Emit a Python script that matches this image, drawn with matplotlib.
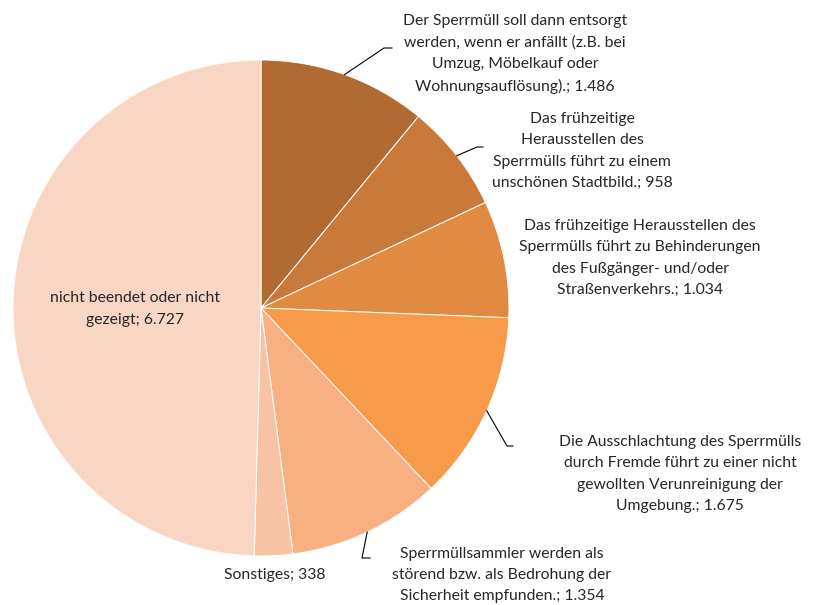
import numpy as np
import matplotlib.pyplot as plt

plt.rcParams['font.family'] = ['Lato', 'DejaVu Sans']

labels = ['Der Sperrmüll soll dann entsorgt\nwerden, wenn er anfällt (z.B. bei\nUmzug, Möbelkauf oder\nWohnungsauflösung).',
          'Das frühzeitige\nHerausstellen des\nSperrmülls führt zu einem\nunschönen Stadtbild.',
          'Das frühzeitige Herausstellen des\nSperrmülls führt zu Behinderungen\ndes Fußgänger- und/oder\nStraßenverkehrs.',
          'Die Ausschlachtung des Sperrmülls\ndurch Fremde führt zu einer nicht\ngewollten Verunreinigung der\nUmgebung.',
          'Sperrmüllsammler werden als\nstörend bzw. als Bedrohung der\nSicherheit empfunden.',
          'Sonstiges',
          'nicht beendet oder nicht\ngezeigt']
values = [1486, 958, 1034, 1675, 1354, 338, 6727]
value_text = ['1.486', '958', '1.034', '1.675', '1.354', '338', '6.727']
colors = ['#B06A32', '#C97A3A', '#E08A42', '#F79A4A', '#F8AF82', '#F8C2A5', '#F9D5C3']

W, H = 814, 605
fig = plt.figure(figsize=(W/100, H/100), dpi=100)
ax = fig.add_axes([0, 0, 1, 1])

cx, cy, r = 261, H-308, 248
wedges, _ = ax.pie(values, colors=colors, startangle=90, counterclock=False,
                   center=(cx, cy), radius=r, frame=True,
                   wedgeprops=dict(edgecolor='white', linewidth=0.7))
ax.set_xlim(0, W); ax.set_ylim(0, H)
ax.set_aspect('equal'); ax.axis('off')

# label block centres (pixel coords) and leader elbow points
pos = [(515, 54), (582, 151), (640, 258), (680, 474), (502, 575), (275, 575), (135, 309)]
elbows = [(384, 48), (477, 147), None, (507, 446), (362, 558), None, None]
ends = [(392, 48), (483, 147), None, (513, 446), (370, 558), None, None]

for i, w in enumerate(wedges):
    txt = labels[i] + '; ' + value_text[i]
    x, y = pos[i]
    ax.text(x, H-y, txt, ha='center', va='center', fontsize=11.3,
            color='#262626', linespacing=1.65)
    if elbows[i] is not None:
        ang = np.deg2rad((w.theta1 + w.theta2) / 2)
        px, py = cx + r*np.cos(ang), cy + r*np.sin(ang)
        ex, ey = elbows[i]; fx, fy = ends[i]
        ax.plot([px, ex, fx], [py, H-ey, H-fy], color='black', lw=0.8)

fig.savefig('out.png', dpi=100)
